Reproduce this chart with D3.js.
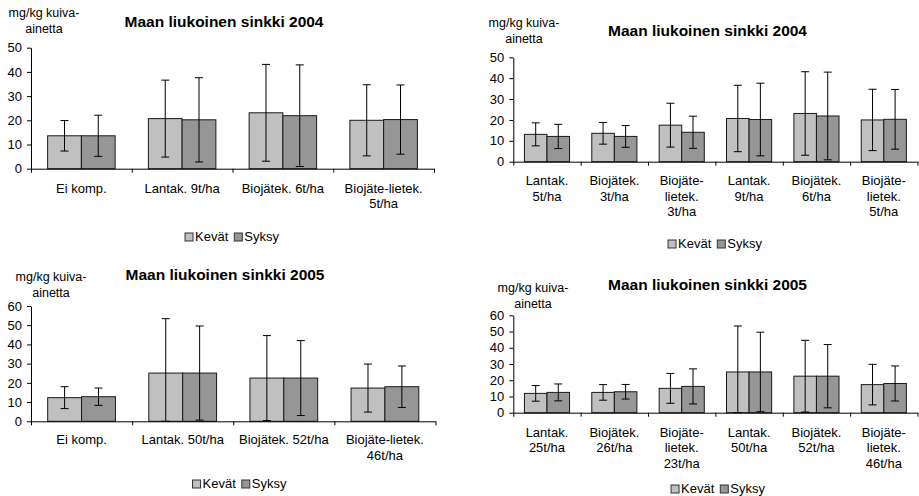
<!DOCTYPE html>
<html>
<head>
<meta charset="utf-8">
<script src="https://cdn.jsdelivr.net/npm/d3@7"></script>
<style>
  body { margin: 0; background: #fff; }
  text { font-family: "Liberation Sans", Arial, sans-serif; }
</style>
</head>
<body>
<svg id="chart" width="919" height="496"></svg>
<script>
// ---- data ----
const series = ["Kevät", "Syksy"];
const yTicks2004 = [0, 10, 20, 30, 40, 50];
const yTicks2005 = [0, 10, 20, 30, 40, 50, 60];
const yLabel = ["mg/kg kuiva-", "ainetta"];

// top left: 2004, 4 treatments
const cats2004a = [["Ei komp."], ["Lantak. 9t/ha"], ["Biojätek. 6t/ha"], ["Biojäte-lietek.", "5t/ha"]];
const kevat2004a = [13.6, 20.7, 23.1, 20.0];
const kevatErr2004a = [6.3, 15.9, 20.0, 14.7];
const syksy2004a = [13.6, 20.2, 21.9, 20.3];
const syksyErr2004a = [8.5, 17.4, 21.0, 14.3];

// top right: 2004, 6 treatments
const cats2004b = [["Lantak.", "5t/ha"], ["Biojätek.", "3t/ha"], ["Biojäte-", "lietek.", "3t/ha"],
                   ["Lantak.", "9t/ha"], ["Biojätek.", "6t/ha"], ["Biojäte-", "lietek.", "5t/ha"]];
const kevat2004b = [13.1, 13.6, 17.5, 20.7, 23.1, 20.0];
const kevatErr2004b = [5.5, 5.2, 10.5, 15.9, 20.0, 14.7];
const syksy2004b = [12.1, 12.1, 14.1, 20.2, 21.9, 20.3];
const syksyErr2004b = [5.8, 5.2, 7.7, 17.4, 21.0, 14.3];

// bottom left: 2005, 4 treatments
const cats2005a = [["Ei komp."], ["Lantak. 50t/ha"], ["Biojätek. 52t/ha"], ["Biojäte-lietek.", "46t/ha"]];
const kevat2005a = [12.3, 25.1, 22.5, 17.3];
const kevatErr2005a = [5.7, 28.3, 22.1, 12.5];
const syksy2005a = [12.8, 25.1, 22.5, 18.0];
const syksyErr2005a = [4.5, 24.5, 19.5, 10.8];

// bottom right: 2005, 6 treatments
const cats2005b = [["Lantak.", "25t/ha"], ["Biojätek.", "26t/ha"], ["Biojäte-", "lietek.", "23t/ha"],
                   ["Lantak.", "50t/ha"], ["Biojätek.", "52t/ha"], ["Biojäte-", "lietek.", "46t/ha"]];
const kevat2005b = [11.9, 12.5, 15.0, 25.1, 22.5, 17.3];
const kevatErr2005b = [4.8, 4.8, 9.2, 28.3, 22.1, 12.5];
const syksy2005b = [12.5, 12.9, 16.2, 25.1, 22.5, 18.0];
const syksyErr2005b = [5.2, 4.5, 10.8, 24.5, 19.5, 10.8];

const colors = {"Kevät": "#c0c0c0", "Syksy": "#969696"};

const svg = d3.select("#chart");

// panel layout (page pixels)
const panels = [
  {title: "Maan liukoinen sinkki 2004", cats: cats2004a, kevat: kevat2004a, kevatErr: kevatErr2004a,
   syksy: syksy2004a, syksyErr: syksyErr2004a, ticks: yTicks2004,
   x0: 31, x1: 434, yTop: 47.7, y0: 168.7, titleX: 224, titleY: 27,
   labX: 44, labY: 17, legX: 232, legY: 241, catDy: 24},
  {title: "Maan liukoinen sinkki 2004", cats: cats2004b, kevat: kevat2004b, kevatErr: kevatErr2004b,
   syksy: syksy2004b, syksyErr: syksyErr2004b, ticks: yTicks2004,
   x0: 513.3, x1: 917.5, yTop: 57.3, y0: 161.7, titleX: 707.5, titleY: 36,
   labX: 524, labY: 27, legX: 715, legY: 248, catDy: 23.3},
  {title: "Maan liukoinen sinkki 2005", cats: cats2005a, kevat: kevat2005a, kevatErr: kevatErr2005a,
   syksy: syksy2005a, syksyErr: syksyErr2005a, ticks: yTicks2005,
   x0: 31, x1: 435.5, yTop: 306, y0: 421.3, titleX: 225, titleY: 280,
   labX: 51, labY: 281, legX: 239.5, legY: 488, catDy: 22.7},
  {title: "Maan liukoinen sinkki 2005", cats: cats2005b, kevat: kevat2005b, kevatErr: kevatErr2005b,
   syksy: syksy2005b, syksyErr: syksyErr2005b, ticks: yTicks2005,
   x0: 513.3, x1: 917.5, yTop: 315.3, y0: 412.7, titleX: 707.5, titleY: 290,
   labX: 533, labY: 292, legX: 718, legY: 493, catDy: 24}
];

function drawPanel(p) {
  const g = svg.append("g");
  const n = p.cats.length;
  const yMax = p.ticks[p.ticks.length - 1];
  const y = d3.scaleLinear().domain([0, yMax]).range([p.y0, p.yTop]);
  const x = d3.scaleBand().domain(d3.range(n)).range([p.x0, p.x1]);
  const W = x.bandwidth();
  const xs = d3.scaleBand().domain(series).range([W * 0.165, W * 0.835]);

  const rows = p.cats.map((c, i) => ({
    i: i,
    vals: [
      {s: "Kevät", v: p.kevat[i], e: p.kevatErr[i]},
      {s: "Syksy", v: p.syksy[i], e: p.syksyErr[i]}
    ]
  }));

  const grp = g.selectAll(".grp").data(rows).enter().append("g")
      .attr("transform", d => "translate(" + x(d.i) + ",0)");

  grp.selectAll("rect").data(d => d.vals).enter().append("rect")
      .attr("x", d => xs(d.s))
      .attr("y", d => y(d.v))
      .attr("width", xs.bandwidth())
      .attr("height", d => p.y0 - y(d.v))
      .attr("fill", d => colors[d.s])
      .attr("stroke", "#1a1a1a")
      .attr("stroke-width", 1);

  // error bars
  const eb = grp.selectAll(".err").data(d => d.vals).enter().append("g")
      .attr("stroke", "#000").attr("stroke-width", 1);
  const cx = d => xs(d.s) + xs.bandwidth() / 2;
  eb.append("line")
      .attr("x1", cx).attr("x2", cx)
      .attr("y1", d => y(Math.max(0, d.v - d.e)))
      .attr("y2", d => y(d.v + d.e));
  eb.append("line")
      .attr("x1", d => cx(d) - 4).attr("x2", d => cx(d) + 4)
      .attr("y1", d => y(d.v + d.e)).attr("y2", d => y(d.v + d.e));
  eb.append("line")
      .attr("x1", d => cx(d) - 4).attr("x2", d => cx(d) + 4)
      .attr("y1", d => y(Math.max(0, d.v - d.e))).attr("y2", d => y(Math.max(0, d.v - d.e)));

  // y axis
  const ya = g.append("g")
      .attr("transform", "translate(" + p.x0 + ",0)")
      .call(d3.axisLeft(y).tickValues(p.ticks).tickSize(4).tickSizeOuter(0).tickPadding(5));
  ya.attr("font-size", 13).attr("font-family", "Liberation Sans, Arial, sans-serif");
  ya.selectAll("text").attr("fill", "#000");
  ya.selectAll("path,line").attr("stroke", "#000");

  // x axis with ticks at category boundaries
  const xb = d3.scaleLinear().domain([0, n]).range([p.x0, p.x1]);
  const xa = g.append("g")
      .attr("transform", "translate(0," + p.y0 + ")")
      .call(d3.axisBottom(xb).tickValues(d3.range(n + 1)).tickSize(4).tickSizeOuter(0).tickFormat(""));
  xa.selectAll("path,line").attr("stroke", "#000");

  // category labels
  const lab = g.selectAll(".cat").data(rows).enter().append("text")
      .attr("x", d => x(d.i) + W / 2)
      .attr("y", p.y0 + p.catDy)
      .attr("text-anchor", "middle")
      .attr("font-size", 13)
      .attr("fill", "#000");
  lab.selectAll("tspan").data(d => p.cats[d.i]).enter().append("tspan")
      .attr("x", function () { return d3.select(this.parentNode).attr("x"); })
      .attr("dy", (d, j) => j === 0 ? 0 : 15.6)
      .text(d => d);

  // title
  g.append("text")
      .attr("x", p.titleX).attr("y", p.titleY)
      .attr("text-anchor", "middle")
      .attr("font-size", 15.5).attr("font-weight", "bold")
      .text(p.title);

  // y label
  g.append("text")
      .attr("x", p.labX).attr("y", p.labY)
      .attr("text-anchor", "middle")
      .attr("font-size", 12.5)
      .selectAll("tspan").data(yLabel).enter().append("tspan")
      .attr("x", p.labX)
      .attr("dy", (d, j) => j === 0 ? 0 : 15.6)
      .text(d => d);

  // legend
  const leg = g.append("g");
  let lx = 0;
  series.forEach(s => {
    leg.append("rect")
        .attr("x", lx).attr("y", p.legY - 8)
        .attr("width", 8).attr("height", 8)
        .attr("fill", colors[s]).attr("stroke", "#333");
    const t = leg.append("text")
        .attr("x", lx + 10).attr("y", p.legY)
        .attr("font-size", 13)
        .text(s);
    lx += 10 + t.node().getComputedTextLength() + 6;
  });
  const lw = lx - 6;
  leg.attr("transform", "translate(" + (p.legX - lw / 2) + ",0)");
}

panels.forEach(drawPanel);
</script>
</body>
</html>
